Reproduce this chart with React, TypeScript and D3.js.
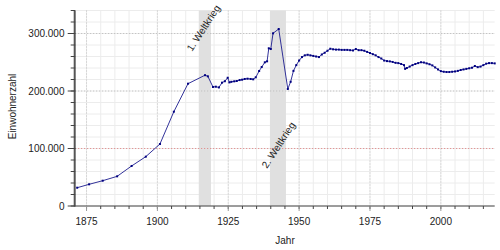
import React from "react";
import * as d3 from "d3";

const years: number[] = [
  1871.7, 1875.9, 1880.7, 1885.8, 1890.9, 1895.9, 1900.9, 1905.8, 1910.8,
  1916.8, 1917.8, 1919.6, 1920.6, 1921.7, 1922.8, 1923.8, 1924.8, 1925.4,
  1926.1, 1927.1, 1928.0, 1929.0, 1929.9, 1930.8, 1931.8, 1932.9, 1933.8,
  1934.7, 1935.9, 1936.8, 1937.9, 1938.7, 1939.3, 1940.0, 1940.8, 1942.8,
  1946, 1947, 1948, 1949, 1950, 1951, 1952, 1953, 1954, 1955, 1956, 1957,
  1958, 1959, 1960, 1961, 1962, 1963, 1964, 1965, 1966, 1967, 1968, 1969,
  1970, 1971, 1972, 1973, 1974, 1975, 1976, 1977, 1978, 1979, 1980, 1981,
  1982, 1983, 1984, 1985, 1986, 1987, 1987.4, 1988, 1989, 1990, 1991, 1992,
  1993, 1994, 1995, 1996, 1997, 1998, 1999, 2000, 2001, 2002, 2003, 2004,
  2005, 2006, 2007, 2008, 2009, 2010, 2011, 2012, 2013, 2014, 2015, 2016,
  2017, 2018, 2019,
];

const population: number[] = [
  31800, 37700, 44000, 51600, 69600, 85800, 107800, 164000, 212700,
  227500, 225500, 207000, 207500, 206200, 214500, 217000, 223000, 215000,
  216000, 216800, 217400, 219000, 219700, 220900, 221400, 220900, 220300,
  223800, 234800, 241700, 249900, 251600, 274300, 273000, 300300, 307800,
  203500, 216000, 235000, 245000, 253000, 259000, 262000, 263000, 262000, 261000, 260000, 259000,
  263500, 266500, 270000, 273500, 272500, 272000, 272000, 271500, 271500, 271500, 271000, 270500,
  273000, 271000, 271000, 270000, 268000, 266000, 264000, 262000, 259000, 256500, 253000, 252000,
  251500, 250500, 249000, 248500, 247000, 245000, 238500, 240000, 242500, 245000, 247000, 248500,
  250000, 249500, 248000, 246500, 244500, 241000, 237500, 234500, 233500, 233000, 233000, 233500,
  234000, 235000, 236500, 237500, 238500, 239500, 240500, 243500, 241500, 242500, 245000, 247500,
  248500, 248500, 248000,
];

const wars = [
  { label: "1. Weltkrieg", from: 1914.6, to: 1918.9 },
  { label: "2. Weltkrieg", from: 1939.7, to: 1945.35 },
];

const xMajorTicks: number[] = [1875, 1900, 1925, 1950, 1975, 2000];
const yMajorTicks: number[] = [0, 100000, 200000, 300000];
const yTickLabels: string[] = ["0", "100.000", "200.000", "300.000"];

const W = 500;
const H = 250;
const left = 75.2;
const right = 494.7;
const top = 10.5;
const bottom = 206;

export default function App() {
  const x = d3.scaleLinear().domain([1871, 2019]).range([left, right]);
  const y = d3.scaleLinear().domain([0, 340000]).range([bottom, top]);

  const xMinor = d3.range(1875, 2019, 5);
  const yMinor = d3.range(0, 340001, 20000);

  const data = years.map((yr, i) => ({ yr, v: population[i] }));
  const line = d3
    .line<{ yr: number; v: number }>()
    .x((d) => x(d.yr))
    .y((d) => y(d.v));

  const font = "'Liberation Sans', Arial, sans-serif";
  const labelPos = [
    { x: 192, y: 52 },
    { x: 267, y: 169 },
  ];

  return (
    <svg
      width={W}
      height={H}
      style={{ position: "absolute", left: 0, top: 0 }}
      fontFamily={font}
    >
      <rect x={0} y={0} width={W} height={H} fill="#fff" />
      {/* minor grid */}
      {xMinor.map((t) => (
        <line key={"xm" + t} x1={x(t)} x2={x(t)} y1={top} y2={bottom} stroke="#ececec" strokeWidth={1} />
      ))}
      {yMinor.map((t) => (
        <line key={"ym" + t} x1={left} x2={right} y1={y(t)} y2={y(t)} stroke="#ececec" strokeWidth={1} />
      ))}
      {/* war bands */}
      {wars.map((w) => (
        <rect key={w.label} x={x(w.from)} width={x(w.to) - x(w.from)} y={top} height={bottom - top} fill="#e0e0e0" />
      ))}
      {/* major grid */}
      {xMajorTicks.map((t) => (
        <line key={"xg" + t} x1={x(t)} x2={x(t)} y1={top} y2={bottom} stroke="#c4c4c4" strokeWidth={1} strokeDasharray="1,2" />
      ))}
      {yMajorTicks.slice(1).map((t) => (
        <line
          key={"yg" + t}
          x1={left}
          x2={right}
          y1={y(t)}
          y2={y(t)}
          stroke={t === 100000 ? "#e08080" : "#bbbbbb"}
          strokeWidth={1}
          strokeDasharray="1,2"
        />
      ))}
      {/* war labels */}
      {wars.map((w, i) => (
        <text
          key={"l" + w.label}
          x={labelPos[i].x}
          y={labelPos[i].y}
          fontSize={10}
          fill="#222"
          transform={`rotate(-57 ${labelPos[i].x} ${labelPos[i].y})`}
        >
          {w.label}
        </text>
      ))}
      {/* data */}
      <path d={line(data) || ""} fill="none" stroke="#1c1c8f" strokeWidth={0.9} />
      {data.map((d, i) => (
        <rect key={"p" + i} x={x(d.yr) - 1} y={y(d.v) - 1} width={2} height={2} fill="#000080" />
      ))}
      {/* axes */}
      <line x1={left} x2={right} y1={bottom} y2={bottom} stroke="#444" strokeWidth={1} />
      <line x1={left - 0.5} x2={left - 0.5} y1={top} y2={bottom + 0.5} stroke="#555" strokeWidth={2} />
      {yMinor.map((t) => (
        <line key={"yt" + t} x1={left - 4.5} x2={left} y1={y(t)} y2={y(t)} stroke="#444" strokeWidth={1} />
      ))}
      {yMajorTicks.map((t, i) => (
        <g key={"yM" + t}>
          <line x1={left - 7.5} x2={left} y1={y(t)} y2={y(t)} stroke="#444" strokeWidth={1} />
          <text x={64.5} y={y(t)} dy="0.35em" fontSize={10} textAnchor="end" fill="#222">
            {yTickLabels[i]}
          </text>
        </g>
      ))}
      {xMinor.map((t) => (
        <line key={"xt" + t} x1={x(t)} x2={x(t)} y1={bottom} y2={bottom + 3} stroke="#444" strokeWidth={1} />
      ))}
      {xMajorTicks.map((t) => (
        <g key={"xM" + t}>
          <line x1={x(t)} x2={x(t)} y1={bottom} y2={bottom + 5} stroke="#999" strokeWidth={1} />
          <text x={x(t)} y={225} fontSize={10} textAnchor="middle" fill="#222">
            {t}
          </text>
        </g>
      ))}
      <text x={285} y={244} fontSize={10} textAnchor="middle" fill="#222">
        Jahr
      </text>
      <text
        x={16}
        y={106.5}
        fontSize={10}
        textAnchor="middle"
        fill="#222"
        transform="rotate(-90 16 106.5)"
      >
        Einwohnerzahl
      </text>
    </svg>
  );
}
